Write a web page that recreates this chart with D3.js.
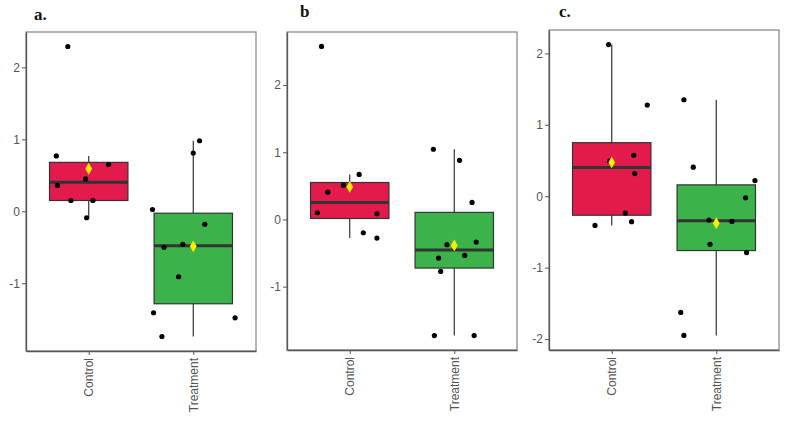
<!DOCTYPE html>
<html>
<head>
<meta charset="utf-8">
<script src="https://cdn.jsdelivr.net/npm/d3@7"></script>
<style>
  body { margin: 0; background: #fff; }
  svg { display: block; }
</style>
</head>
<body>
<div id="wrapper"></div>
<script>
const groups = ["Control", "Treatment"]

// panel a
const aControl = [2.29, 0.77, 0.36, 0.15, 0.45, -0.09, 0.15, 0.65]
const aControlJitter = [-0.20, -0.31, -0.30, -0.17, -0.03, -0.02, 0.04, 0.19]
const aTreatment = [0.025, 0.98, 0.81, -0.18, -0.50, -0.46, -0.91, -1.41, -1.74, -1.48]
const aTreatmentJitter = [-0.39, 0.06, 0.00, 0.11, -0.28, -0.10, -0.14, -0.38, -0.30, 0.40]
const aTicks = [-1, 0, 1, 2]

// panel b
const bControl = [2.575, 0.10, 0.406, 0.51, 0.67, 0.085, -0.198, -0.277]
const bControlJitter = [-0.27, -0.31, -0.21, -0.06, 0.09, 0.26, 0.13, 0.26]
const bTreatment = [1.045, 0.88, 0.253, -0.376, -0.337, -0.575, -0.535, -0.773, -1.728, -1.728]
const bTreatmentJitter = [-0.20, 0.05, 0.17, -0.07, 0.21, -0.15, 0.10, -0.13, -0.19, 0.19]
const bTicks = [-1, 0, 1, 2]

// panel c
const cControl = [2.124, 1.277, 0.574, 0.317, -0.236, -0.357, -0.409, 0.49]
const cControlJitter = [-0.03, 0.34, 0.21, 0.22, 0.13, 0.19, -0.16, -0.02]
const cTreatment = [1.351, 0.406, 0.219, -0.022, -0.334, -0.353, -0.674, -0.79, -1.628, -1.95]
const cTreatmentJitter = [-0.31, -0.22, 0.37, 0.28, -0.07, 0.15, -0.06, 0.29, -0.34, -0.31]
const cTicks = [-2, -1, 0, 1, 2]

const panels = [
  { title: "a.", values: [aControl, aTreatment], jitter: [aControlJitter, aTreatmentJitter], ticks: aTicks,
    left: 26, right: 256, top: 32, bottom: 351, titleX: 34, titleY: 20 },
  { title: "b", values: [bControl, bTreatment], jitter: [bControlJitter, bTreatmentJitter], ticks: bTicks,
    left: 287, right: 517, top: 32, bottom: 350, titleX: 300, titleY: 17 },
  { title: "c.", values: [cControl, cTreatment], jitter: [cControlJitter, cTreatmentJitter], ticks: cTicks,
    left: 549, right: 779, top: 30, bottom: 350, titleX: 559, titleY: 17 },
]

const fills = ["#e31b4c", "#3bb34a"]

const svg = d3.select("#wrapper")
  .append("svg")
    .attr("width", 791)
    .attr("height", 422)

function boxStats(values) {
  const s = values.slice().sort(d3.ascending)
  const q1 = d3.quantile(s, 0.25)
  const med = d3.quantile(s, 0.5)
  const q3 = d3.quantile(s, 0.75)
  const iqr = q3 - q1
  const lo = d3.min(s.filter(v => v >= q1 - 1.5 * iqr))
  const hi = d3.max(s.filter(v => v <= q3 + 1.5 * iqr))
  return { q1, med, q3, lo, hi, mean: d3.mean(s) }
}

panels.forEach(p => {
  const all = p.values.flat()
  const [mn, mx] = d3.extent(all)
  const pad = (mx - mn) * 0.05

  const yScale = d3.scaleLinear()
    .domain([mn - pad, mx + pad])
    .range([p.bottom, p.top])

  const xScale = d3.scalePoint()
    .domain(groups)
    .range([p.left, p.right])
    .padding(0.6)
  const unit = xScale.step()
  const boxW = unit * 0.75

  const g = svg.append("g")

  // frame
  g.append("rect")
    .attr("x", p.left)
    .attr("y", p.top)
    .attr("width", p.right - p.left)
    .attr("height", p.bottom - p.top)
    .attr("fill", "none")
    .attr("stroke", "#8c8c8c")
    .attr("stroke-width", 1.3)

  // title
  svg.append("text")
    .attr("x", p.titleX)
    .attr("y", p.titleY)
    .style("font-family", "'Liberation Serif', serif")
    .style("font-weight", "bold")
    .style("font-size", "17px")
    .attr("fill", "#111")
    .text(p.title)

  // boxes
  groups.forEach((grp, i) => {
    const st = boxStats(p.values[i])
    const cx = xScale(grp)

    g.append("line")
      .attr("x1", cx).attr("x2", cx)
      .attr("y1", yScale(st.hi)).attr("y2", yScale(st.lo))
      .attr("stroke", "#333")
      .attr("stroke-width", 1.2)

    g.append("rect")
      .attr("x", cx - boxW / 2)
      .attr("y", yScale(st.q3))
      .attr("width", boxW)
      .attr("height", yScale(st.q1) - yScale(st.q3))
      .attr("fill", fills[i])
      .attr("stroke", "#333")
      .attr("stroke-width", 1.2)

    g.append("line")
      .attr("x1", cx - boxW / 2).attr("x2", cx + boxW / 2)
      .attr("y1", yScale(st.med)).attr("y2", yScale(st.med))
      .attr("stroke", "#333")
      .attr("stroke-width", 3)

    g.selectAll(null)
      .data(p.values[i])
      .join("circle")
        .attr("cx", (d, k) => cx + p.jitter[i][k] * unit)
        .attr("cy", d => yScale(d))
        .attr("r", 2.6)
        .attr("fill", "#000")

    g.append("path")
      .attr("d", d3.symbol(d3.symbolDiamond, 40)())
      .attr("transform", `translate(${cx},${yScale(st.mean)})`)
      .attr("fill", "#ffee00")
  })

  // axes
  const yAxis = g.append("g")
    .attr("transform", `translate(${p.left},0)`)
    .call(d3.axisLeft(yScale).tickValues(p.ticks).tickSizeInner(4).tickSizeOuter(0)
      .tickPadding(2).tickFormat(d => String(d)))
  yAxis.select(".domain").attr("stroke", "#555").attr("stroke-width", 1.3)
  yAxis.selectAll(".tick line").attr("stroke", "#555")
  yAxis.selectAll(".tick text")
    .attr("fill", "#555")
    .style("font-family", "'Liberation Sans', Arial, sans-serif")
    .style("font-size", "12px")

  const xAxis = g.append("g")
    .attr("transform", `translate(0,${p.bottom})`)
    .call(d3.axisBottom(xScale).tickSizeInner(4).tickSizeOuter(0).tickPadding(3))
  xAxis.select(".domain").attr("stroke", "#555").attr("stroke-width", 1.3)
  xAxis.selectAll(".tick line").attr("stroke", "#555")
  xAxis.selectAll(".tick text")
    .attr("fill", "#555")
    .style("font-family", "'Liberation Sans', Arial, sans-serif")
    .style("font-size", "12px")
    .attr("transform", "rotate(-90)")
    .attr("x", -7)
    .attr("y", 0)
    .attr("dy", "0.35em")
    .style("text-anchor", "end")
})
</script>
</body>
</html>
